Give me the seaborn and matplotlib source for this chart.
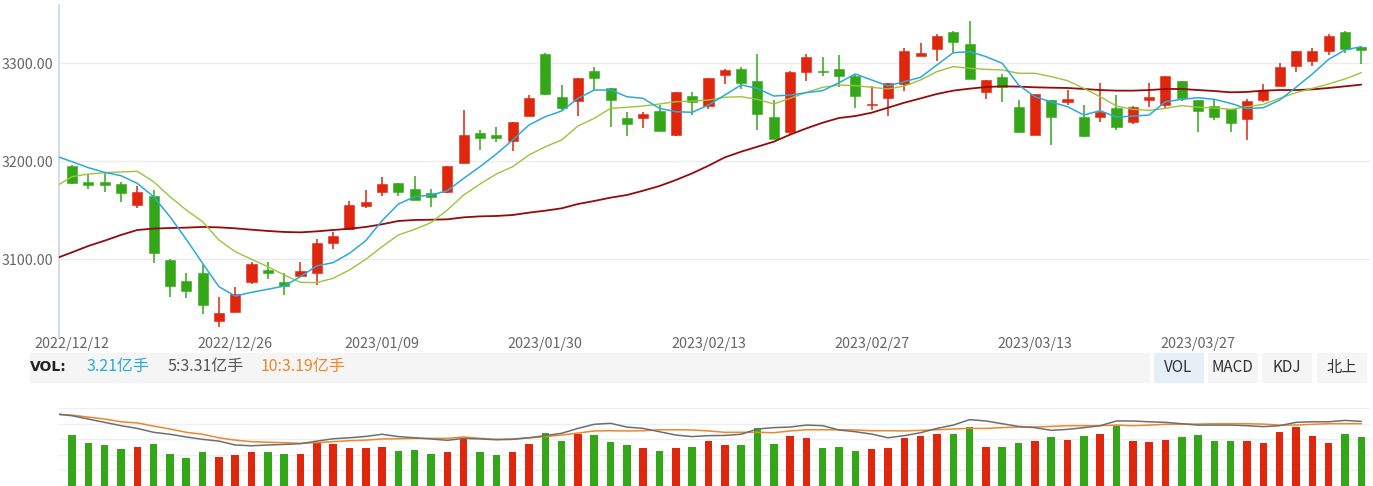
import numpy as np
import pandas as pd
import matplotlib
matplotlib.use("Agg")
import matplotlib.pyplot as plt
from matplotlib.patches import Rectangle
import seaborn as sns

# ---------------- data ----------------
tick_pos = [0, 10, 19, 29, 39, 49, 59, 69]
tick_labels = ["2022/12/12", "2022/12/26", "2023/01/09", "2023/01/30",
               "2023/02/13", "2023/02/27", "2023/03/13", "2023/03/27"]

opens = [3195.2, 3178.6, 3178.6, 3176.5, 3155.4, 3164.3, 3098.6, 3077.6, 3085.7, 3037.1,
         3046.3, 3076.5, 3088.4, 3076.2, 3082.7, 3086.1, 3116.7, 3130.3, 3154.4, 3168.4,
         3177.6, 3171.4, 3167.0, 3168.7, 3197.6, 3228.9, 3226.9, 3220.1, 3245.9, 3309.2,
         3265.3, 3261.6, 3291.5, 3274.8, 3244.2, 3243.5, 3251.4, 3226.9, 3266.7, 3256.5,
         3288.1, 3293.5, 3282.0, 3244.6, 3229.3, 3290.8, 3291.8, 3293.5, 3286.7, 3256.8,
         3264.6, 3278.2, 3307.1, 3314.3, 3331.6, 3319.7, 3270.7, 3285.4, 3254.8, 3226.9,
         3262.2, 3260.2, 3244.6, 3244.9, 3253.7, 3240.1, 3262.2, 3257.5, 3282.0, 3262.2,
         3256.1, 3253.4, 3242.5, 3262.2, 3276.5, 3296.6, 3302.4, 3311.9, 3331.3, 3316.7]
highs = [3195.9, 3186.7, 3189.1, 3178.2, 3174.8, 3170.4, 3099.7, 3085.4, 3094.6, 3061.2,
         3071.8, 3097.3, 3097.3, 3085.4, 3096.6, 3120.1, 3127.9, 3158.8, 3170.4, 3183.3,
         3177.6, 3184.7, 3171.4, 3195.2, 3251.7, 3231.6, 3235.0, 3239.8, 3267.0, 3310.2,
         3277.2, 3284.4, 3296.3, 3274.8, 3250.0, 3250.0, 3256.8, 3270.1, 3270.1, 3284.4,
         3293.5, 3296.3, 3309.2, 3262.2, 3291.5, 3308.8, 3306.5, 3308.2, 3288.8, 3276.5,
         3279.3, 3315.0, 3320.7, 3329.9, 3332.7, 3343.2, 3283.0, 3288.8, 3262.2, 3268.0,
         3262.2, 3272.4, 3257.5, 3279.3, 3267.7, 3256.1, 3279.6, 3286.7, 3282.0, 3262.2,
         3263.6, 3253.4, 3263.3, 3278.6, 3299.7, 3312.2, 3315.0, 3329.6, 3332.3, 3316.7]
lows = [3176.5, 3171.8, 3168.4, 3157.8, 3151.7, 3095.6, 3061.6, 3060.2, 3043.9, 3030.9,
        3046.0, 3074.1, 3079.3, 3063.6, 3082.0, 3073.1, 3109.9, 3129.6, 3151.7, 3164.6,
        3164.6, 3160.2, 3153.4, 3167.0, 3197.6, 3211.6, 3219.7, 3210.5, 3245.9, 3267.0,
        3252.0, 3245.9, 3272.4, 3235.0, 3225.9, 3234.0, 3230.6, 3225.9, 3246.9, 3252.7,
        3278.6, 3273.8, 3231.6, 3222.8, 3226.5, 3282.0, 3287.1, 3275.2, 3254.4, 3252.0,
        3246.3, 3271.8, 3307.1, 3302.0, 3309.9, 3283.3, 3263.3, 3259.9, 3229.3, 3226.9,
        3216.7, 3256.8, 3224.8, 3240.1, 3232.0, 3237.4, 3255.1, 3253.1, 3261.6, 3229.3,
        3242.2, 3229.3, 3221.1, 3259.9, 3276.5, 3290.8, 3296.6, 3308.5, 3310.5, 3298.6]
closes = [3177.9, 3175.5, 3175.2, 3167.0, 3168.4, 3106.5, 3072.1, 3067.7, 3053.4, 3044.6,
          3064.3, 3094.9, 3086.1, 3072.1, 3088.1, 3116.3, 3123.5, 3155.1, 3157.8, 3176.5,
          3168.4, 3160.2, 3162.9, 3195.2, 3226.9, 3223.8, 3223.8, 3239.8, 3264.3, 3268.0,
          3254.4, 3284.4, 3285.0, 3262.6, 3237.8, 3248.0, 3230.6, 3270.1, 3260.2, 3284.4,
          3292.5, 3279.9, 3248.3, 3222.8, 3290.5, 3306.5, 3290.5, 3287.1, 3266.0, 3257.5,
          3279.3, 3312.6, 3310.2, 3327.9, 3321.1, 3283.3, 3283.0, 3275.5, 3229.3, 3268.0,
          3244.9, 3263.3, 3225.9, 3250.3, 3234.4, 3254.8, 3265.3, 3286.7, 3264.3, 3250.7,
          3244.9, 3239.1, 3260.9, 3272.4, 3295.9, 3312.2, 3312.2, 3327.9, 3314.3, 3312.9]

# moving averages, first value belongs to the session before the window (index -1)
ma5 = [3205.2, 3199.3, 3193.2, 3188.4, 3185.0, 3177.2, 3163.6, 3143.2, 3120.1, 3095.6, 3071.8,
       3062.2, 3066.0, 3069.1, 3072.4, 3082.0, 3093.0, 3096.3, 3105.8, 3118.7, 3139.1,
       3156.1, 3163.6, 3165.3, 3169.7, 3182.3, 3194.2, 3207.1, 3221.4, 3236.7, 3245.2,
       3251.0, 3263.9, 3272.4, 3272.4, 3265.6, 3263.9, 3253.7, 3250.3, 3249.7, 3257.1,
       3267.3, 3277.6, 3274.1, 3266.3, 3267.3, 3269.7, 3271.8, 3279.9, 3288.8, 3282.7,
       3276.5, 3281.0, 3285.4, 3298.0, 3310.5, 3311.6, 3306.5, 3299.7, 3277.6, 3265.6,
       3260.2, 3255.4, 3246.9, 3251.4, 3244.6, 3245.9, 3246.9, 3260.5, 3262.9, 3264.6,
       3262.9, 3258.8, 3253.4, 3254.4, 3262.2, 3275.2, 3288.8, 3303.7, 3313.3, 3316.7]
ma10 = [3174.0, 3184.0, 3186.7, 3188.1, 3188.8, 3189.5, 3178.9, 3163.6, 3150.0, 3138.1, 3119.4,
        3107.5, 3099.7, 3092.2, 3083.7, 3076.2, 3075.9, 3080.3, 3088.8, 3099.7, 3112.6,
        3124.5, 3130.3, 3137.1, 3150.0, 3165.3, 3176.5, 3186.7, 3194.2, 3206.1, 3214.6,
        3221.4, 3235.7, 3243.5, 3253.7, 3254.8, 3256.1, 3258.2, 3260.5, 3261.2, 3262.2,
        3265.0, 3265.6, 3262.9, 3258.2, 3263.9, 3270.1, 3275.2, 3277.6, 3276.9, 3275.2,
        3273.5, 3276.5, 3282.7, 3291.2, 3296.3, 3294.6, 3293.5, 3292.9, 3289.5, 3289.5,
        3286.1, 3282.0, 3274.1, 3265.6, 3256.1, 3252.7, 3251.7, 3253.7, 3256.5, 3254.8,
        3254.1, 3252.7, 3255.4, 3257.8, 3263.9, 3269.7, 3274.1, 3278.6, 3283.7, 3290.1]
ma30 = [3100.5, 3106.8, 3113.3, 3118.7, 3124.5, 3129.6, 3131.0, 3131.6, 3132.0, 3132.7, 3132.3,
        3131.3, 3129.9, 3128.6, 3127.6, 3127.2, 3128.2, 3129.6, 3130.9, 3132.7, 3135.4,
        3138.8, 3139.8, 3140.1, 3140.5, 3142.5, 3143.5, 3143.9, 3144.9, 3147.3, 3149.3,
        3151.7, 3156.1, 3159.2, 3162.6, 3165.3, 3169.7, 3174.5, 3180.6, 3187.4, 3195.2,
        3203.7, 3209.5, 3214.6, 3219.7, 3226.9, 3233.3, 3239.1, 3243.9, 3245.9, 3249.3,
        3254.4, 3259.5, 3263.9, 3268.4, 3271.8, 3273.8, 3275.5, 3276.2, 3275.9, 3275.2,
        3274.8, 3274.5, 3273.5, 3272.4, 3271.8, 3271.8, 3272.4, 3273.5, 3273.5, 3272.4,
        3271.4, 3270.1, 3270.5, 3271.8, 3272.4, 3272.4, 3273.1, 3274.5, 3276.2, 3277.9]

# volume (亿手)
volume = [3.36, 2.81, 2.68, 2.44, 2.59, 2.75, 2.13, 1.83, 2.22, 1.91,
          2.04, 2.22, 2.22, 2.13, 2.13, 2.81, 2.75, 2.52, 2.52, 2.59,
          2.29, 2.35, 2.13, 2.22, 3.10, 2.22, 2.04, 2.22, 2.75, 3.49,
          2.96, 3.41, 3.36, 2.90, 2.68, 2.52, 2.29, 2.52, 2.59, 2.96,
          2.68, 2.68, 3.79, 2.75, 3.27, 3.18, 2.52, 2.59, 2.29, 2.44,
          2.52, 3.18, 3.27, 3.43, 3.43, 3.89, 2.59, 2.59, 2.81, 2.96,
          3.21, 3.06, 3.27, 3.43, 3.95, 2.96, 2.90, 3.06, 3.21, 3.33,
          2.96, 2.96, 2.96, 2.81, 3.58, 3.89, 3.27, 2.81, 3.43, 3.21]
vol_ma5 = [3.69, 3.60, 3.43, 3.26, 3.09, 2.95, 2.75, 2.65, 2.51, 2.39, 2.30,
           2.10, 2.06, 2.10, 2.13, 2.17, 2.30, 2.42, 2.47, 2.54, 2.65,
           2.53, 2.47, 2.41, 2.34, 2.44, 2.41, 2.37, 2.39, 2.47, 2.58,
           2.70, 2.95, 3.16, 3.21, 3.02, 2.95, 2.78, 2.61, 2.53, 2.58,
           2.59, 2.65, 2.92, 2.99, 3.02, 3.12, 3.09, 2.87, 2.78, 2.66,
           2.47, 2.58, 2.73, 2.95, 3.12, 3.40, 3.33, 3.19, 3.05, 2.99,
           2.85, 2.90, 2.99, 3.09, 3.33, 3.33, 3.29, 3.26, 3.19, 3.12,
           3.12, 3.12, 3.09, 3.04, 3.09, 3.26, 3.29, 3.29, 3.36, 3.31]
vol_ma10 = [3.68, 3.63, 3.53, 3.43, 3.29, 3.23, 3.07, 2.92, 2.75, 2.65, 2.47,
            2.35, 2.27, 2.24, 2.22, 2.18, 2.22, 2.27, 2.32, 2.35, 2.41,
            2.42, 2.44, 2.44, 2.44, 2.51, 2.44, 2.39, 2.41, 2.47, 2.53,
            2.61, 2.71, 2.82, 2.83, 2.82, 2.83, 2.88, 2.88, 2.87, 2.82,
            2.75, 2.75, 2.75, 2.73, 2.82, 2.88, 2.88, 2.88, 2.87, 2.83,
            2.83, 2.82, 2.85, 2.88, 2.92, 2.95, 2.95, 2.99, 3.02, 3.02,
            3.05, 3.09, 3.09, 3.09, 3.12, 3.09, 3.12, 3.16, 3.17, 3.17,
            3.19, 3.19, 3.19, 3.17, 3.12, 3.12, 3.16, 3.19, 3.19, 3.19]

# ---------------- style ----------------
RED = "#e0260c"
GREEN = "#33a718"
C_MA5 = "#2aaad9"
C_MA10 = "#9cc43a"
C_MA30 = "#930b0b"
C_VMA5 = "#6e6e6e"
C_VMA10 = "#f0862a"

sns.set_theme(style="white")
plt.rcParams["font.family"] = ["Noto Sans CJK SC", "DejaVu Sans"]

W, H = 1373, 486
fig = plt.figure(figsize=(W / 100, H / 100), dpi=100)
fig.patch.set_facecolor("white")


def fx(px):
    return px / W


def fy(py):
    return 1 - py / H


n = len(closes)
idx = np.arange(n)
ma_x = np.arange(-1, n)
x_left, x_right = 59, 1370
xlim = ((x_left - 72) / 16.32, (x_right - 72) / 16.32)

# ---------------- price panel ----------------
ax = fig.add_axes([fx(x_left), fy(337), fx(x_right - x_left), (337 - 5) / H])
df = pd.DataFrame({"i": idx, "o": opens, "h": highs, "l": lows, "c": closes})
df["up"] = df["c"] >= df["o"]
df["col"] = np.where(df["up"], RED, GREEN)
body_lo = np.minimum(df["o"], df["c"])
body_h = np.maximum(np.abs(df["c"] - df["o"]), 0.9)
ax.vlines(df["i"], df["l"], df["h"], colors=df["col"], lw=1.1, zorder=2)
ax.bar(df["i"], body_h, bottom=body_lo, width=0.62, color=df["col"],
       edgecolor=df["col"], linewidth=0.4, zorder=3)

ma_df = pd.DataFrame({"x": ma_x, "ma5": ma5, "ma10": ma10, "ma30": ma30})
sns.lineplot(data=ma_df, x="x", y="ma30", ax=ax, color=C_MA30, lw=1.3, zorder=4)
sns.lineplot(data=ma_df, x="x", y="ma10", ax=ax, color=C_MA10, lw=1.0, zorder=5)
sns.lineplot(data=ma_df, x="x", y="ma5", ax=ax, color=C_MA5, lw=1.1, zorder=6)

ax.set_xlim(*xlim)
ax.set_ylim(3300 - (337 - 63) / 0.98, 3300 + (63 - 5) / 0.98)
ax.set_yticks([3100, 3200, 3300])
ax.set_yticklabels([f"{v:.2f}" for v in [3100, 3200, 3300]])
ax.set_xticks(tick_pos)
ax.set_xticklabels(tick_labels)
ax.tick_params(axis="both", length=0, labelsize=10.3, labelcolor="#666666")
ax.tick_params(axis="y", pad=4)
ax.tick_params(axis="x", pad=0)
ax.set_xlabel("")
ax.set_ylabel("")
ax.yaxis.grid(True, color="#ebebf0", lw=1)
ax.xaxis.grid(False)
for s in ["top", "right", "bottom"]:
    ax.spines[s].set_visible(False)
ax.spines["left"].set_color("#c8d6ef")
ax.spines["left"].set_linewidth(1.2)
ax.set_facecolor("none")

# ---------------- info bar ----------------
fig.patches.append(Rectangle((fx(30), fy(382)), fx(1149 - 30), 29 / H,
                             transform=fig.transFigure, color="#f5f5f5", zorder=0))
buttons = [("VOL", 1154, 1203, "#e6eef8"), ("MACD", 1208, 1257, "#f5f5f5"),
           ("KDJ", 1262, 1311, "#f5f5f5"), ("北上", 1317, 1366, "#f5f5f5")]
for label, x0, x1, bg in buttons:
    fig.patches.append(Rectangle((fx(x0), fy(382)), fx(x1 - x0), 29 / H,
                                 transform=fig.transFigure, color=bg, zorder=0))
    fig.text(fx((x0 + x1) / 2), fy(367.5), label, ha="center", va="center",
             fontsize=11, color="#333333")

fig.text(fx(30), fy(367), "VOL:", ha="left", va="center", fontsize=10,
         fontweight="bold", color="#222222", family=["DejaVu Sans"])
fig.text(fx(87), fy(367), f"{volume[-1]:.2f}亿手", ha="left", va="center",
         fontsize=11.5, color=C_MA5)
fig.text(fx(167), fy(367), f"5:{vol_ma5[-1]:.2f}亿手", ha="left", va="center",
         fontsize=11.5, color="#555555")
fig.text(fx(261), fy(367), f"10:{vol_ma10[-1]:.2f}亿手", ha="left", va="center",
         fontsize=11.5, color=C_VMA10)

# ---------------- volume panel ----------------
axv = fig.add_axes([fx(x_left), 0, fx(x_right - x_left), (486 - 408.3) / H])
vdf = pd.DataFrame({"i": idx, "v": volume,
                    "dir": np.where(df["up"], "up", "down")})
sns.barplot(data=vdf, x="i", y="v", hue="dir", palette={"up": RED, "down": GREEN},
            native_scale=True, width=0.46, dodge=False, saturation=1,
            linewidth=0, legend=False, ax=axv, zorder=3)
vmax = 5.12
axv.set_ylim(0, vmax)
axv.set_xlim(*xlim)
axv.set_yticks(np.linspace(0, vmax, 6))
axv.yaxis.grid(True, color="#eceff4", lw=1)
axv.xaxis.grid(False)
axv.set_xticks([])
axv.tick_params(axis="y", length=0, labelleft=False)
axv.set_xlabel("")
axv.set_ylabel("")
for s in axv.spines.values():
    s.set_visible(False)
axv.set_facecolor("none")

axl = axv.twinx()
vm_df = pd.DataFrame({"x": ma_x, "m5": vol_ma5, "m10": vol_ma10})
sns.lineplot(data=vm_df, x="x", y="m10", ax=axl, color=C_VMA10, lw=1.1)
sns.lineplot(data=vm_df, x="x", y="m5", ax=axl, color=C_VMA5, lw=1.1)
axl.set_ylim(0, 3.98)
axl.set_xlim(*xlim)
axl.set_yticks([])
axl.set_xlabel("")
axl.set_ylabel("")
axl.grid(False)
for s in axl.spines.values():
    s.set_visible(False)

fig.savefig("out.png", dpi=100)
